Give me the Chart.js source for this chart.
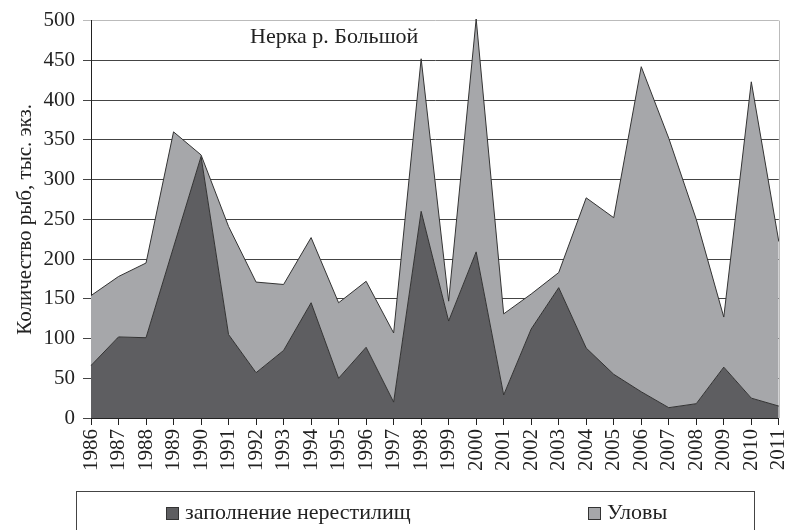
<!DOCTYPE html>
<html>
<head>
<meta charset="utf-8">
<script src="https://cdn.jsdelivr.net/npm/chart.js@4/dist/chart.umd.min.js"></script>
<style>
  html, body { margin: 0; padding: 0; background: #fff; }
  #wrap { position: relative; width: 808px; height: 530px; overflow: hidden; }
  #c { position: absolute; left: 0; top: 0; }
  #legend { position: absolute; left: 76px; top: 491px; width: 679px; height: 60px;
            border: 1px solid #444; box-sizing: border-box; font-family: 'Liberation Serif', serif;
            font-size: 22px; color: #222; }
  .item { position: absolute; top: 8px; white-space: nowrap; line-height: 24px; }
  .sw { display: inline-block; width: 13px; height: 13px; border: 1px solid #333; box-sizing: border-box;
        vertical-align: -1px; margin-right: 6px; }
</style>
</head>
<body>
<div id="wrap">
  <canvas id="c" width="808" height="530"></canvas>
  <div id="legend">
    <span class="item" style="left:89px"><span class="sw" style="background:#5e5e61"></span>заполнение нерестилищ</span>
    <span class="item" style="left:511px"><span class="sw" style="background:#a6a7aa"></span>Уловы</span>
  </div>
</div>
<script>
const years = ['1986','1987','1988','1989','1990','1991','1992','1993','1994','1995','1996','1997','1998','1999','2000','2001','2002','2003','2004','2005','2006','2007','2008','2009','2010','2011'];
const escapement = [66,102,101,215,329,105,57,85,145,50,89,20,260,122,209,29,112,164,88,55,33,13,18,64,25,15];
const catches = [88,76,94,145,2,136,114,83,82,95,83,87,192,25,293,102,44,19,189,197,409,339,232,63,398,207];
const yTicks = [0,50,100,150,200,250,300,350,400,450,500];
const chartTitle = 'Нерка р. Большой';
const yTitle = 'Количество рыб, тыс. экз.';
const seriesNames = ['заполнение нерестилищ', 'Уловы'];

const FONT = 'Liberation Serif';

const extras = {
  id: 'extras',
  afterDraw(chart) {
    const ctx = chart.ctx, a = chart.chartArea;
    ctx.save();
    ctx.strokeStyle = '#bbbbbb';
    ctx.lineWidth = 1;
    ctx.beginPath();
    ctx.moveTo(Math.round(a.right) + 0.5, a.top);
    ctx.lineTo(Math.round(a.right) + 0.5, a.bottom);
    ctx.stroke();
    ctx.fillStyle = '#222';
    ctx.font = '22px "' + FONT + '"';
    ctx.textAlign = 'left';
    ctx.textBaseline = 'middle';
    ctx.fillText(chartTitle, 250, 37);
    ctx.restore();
  }
};

new Chart(document.getElementById('c'), {
  type: 'line',
  data: {
    labels: years,
    datasets: [
      { label: seriesNames[0], data: escapement, fill: 'origin', backgroundColor: '#5e5e61',
        borderColor: '#333', borderWidth: 1, pointRadius: 0, tension: 0 },
      { label: seriesNames[1], data: catches, fill: '-1', backgroundColor: '#a6a7aa',
        borderColor: '#333', borderWidth: 1, pointRadius: 0, tension: 0, clip: false }
    ]
  },
  options: {
    responsive: false,
    animation: false,
    layout: { padding: { left: 0, right: 7, top: 17, bottom: 40 } },
    plugins: { legend: { display: false }, tooltip: { enabled: false } },
    scales: {
      x: {
        offset: false,
        grid: { drawOnChartArea: false, drawTicks: true, tickLength: 7, color: '#222' },
        border: { display: true, color: '#222', width: 1 },
        ticks: { minRotation: 90, maxRotation: 90, autoSkip: false, color: '#222', padding: 4,
                 font: { family: FONT, size: 21 } },
        afterFit(s) { s.height = 72; }
      },
      y: {
        stacked: true,
        min: 0, max: 500,
        afterBuildTicks(s) { s.ticks = yTicks.map(v => ({ value: v })); },
        grid: { color: ctx => (ctx.tick && ctx.tick.value === 500) ? '#bbbbbb' : '#444', tickLength: 8,
                drawTicks: true },
        border: { display: true, color: '#222', width: 1 },
        ticks: { color: '#222', padding: 8, font: { family: FONT, size: 21 } },
        title: { display: true, text: yTitle, color: '#222', font: { family: FONT, size: 21 }, padding: { top: 13, bottom: 0 } },
        afterFit(s) { s.width = 91; }
      }
    }
  },
  plugins: [extras]
});
</script>
</body>
</html>
